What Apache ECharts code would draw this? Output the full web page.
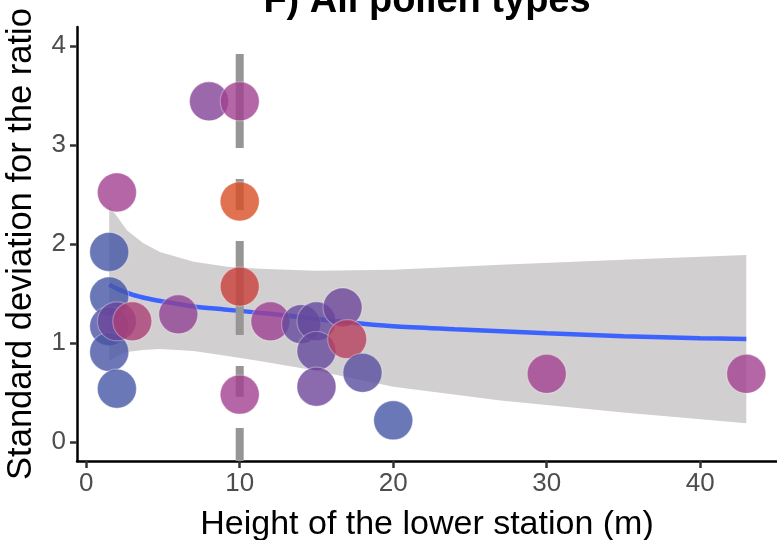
<!DOCTYPE html>
<html>
<head>
<meta charset="utf-8">
<script src="https://cdn.jsdelivr.net/npm/echarts@6/dist/echarts.min.js"></script>
<style>
html,body{margin:0;padding:0;background:#fff;}
#c{width:777px;height:540px;}
</style>
</head>
<body>
<div id="c"></div>
<script>
// ---- data ----
const titleText = "F) All pollen types";
const xTitle = "Height of the lower station (m)";
const yTitle = "Standard deviation for the ratio";
const xTicks = [0, 10, 20, 30, 40];
const yTicks = [0, 1, 2, 3, 4];

// points: height (m), SD of ratio, colour variable (0 = blue ... 1 = orange)
const ptX = [2, 1.5, 1.5, 1.5, 1.5, 2, 2, 3, 6, 8, 10, 10, 10, 10, 12, 14, 15, 15, 15, 16.7, 17, 18, 20, 30, 43];
const ptY = [2.52, 1.92, 1.47, 1.17, 0.91, 0.54, 1.22, 1.22, 1.29, 3.44, 3.44, 2.43, 1.57, 0.48, 1.22, 1.19, 1.22, 0.92, 0.56, 1.36, 1.04, 0.70, 0.22, 0.69, 0.69];
const ptC = [0.50, 0.00, 0.00, 0.04, 0.02, 0.00, 0.24, 0.58, 0.42, 0.35, 0.50, 1.00, 0.78, 0.50, 0.48, 0.20, 0.20, 0.20, 0.26, 0.24, 0.65, 0.12, 0.00, 0.50, 0.50];

// smoother fit
const fitX = [1.5, 2, 3, 4, 5, 7, 9, 11, 13.5, 17, 20, 24, 27, 30, 35, 40, 43];
const fitY = [1.59, 1.55, 1.49, 1.45, 1.42, 1.37, 1.34, 1.31, 1.27, 1.21, 1.17, 1.14, 1.12, 1.10, 1.07, 1.05, 1.04];

// confidence band
const bandX = [1.5, 2, 2.65, 3.7, 4.8, 7, 9.2, 11.3, 15, 20, 27, 35, 43];
const bandLow = [0.82, 0.87, 0.91, 0.93, 0.94, 0.92, 0.87, 0.82, 0.72, 0.56, 0.42, 0.30, 0.19];
const bandHigh = [2.38, 2.28, 2.14, 2.01, 1.92, 1.82, 1.77, 1.75, 1.73, 1.74, 1.79, 1.84, 1.89];

// reference vertical line
const vlineX = 10;

// ---- chart ----
const X_MIN = -0.6, X_MAX = 45.0, Y_MIN = -0.19, Y_MAX = 4.19;
const FONT = "'Liberation Sans', Arial, Helvetica, sans-serif";

const chart = echarts.init(document.getElementById('c'), null, {renderer: 'canvas'});

const scatterData = ptX.map((x, i) => [x, ptY[i], ptC[i]]);
const fitData = fitX.map((x, i) => [x, fitY[i]]);

const option = {
  animation: false,
  backgroundColor: '#ffffff',
  grid: {left: 77, right: 0, top: 27, bottom: 79, containLabel: false, outerBoundsMode: 'none'},
  graphic: [{
    type: 'text',
    x: 427, y: 2,
    style: {
      text: titleText,
      textAlign: 'center', textVerticalAlign: 'middle',
      font: "bold 38px " + FONT, fill: '#000'
    },
    z: 10
  }],
  xAxis: {
    type: 'value', min: X_MIN, max: X_MAX,
    splitLine: {show: false},
    axisLine: {show: true, onZero: false, lineStyle: {color: '#000', width: 2.5}},
    axisTick: {show: true, length: 7, customValues: xTicks, lineStyle: {color: '#333', width: 2.5}},
    axisLabel: {customValues: xTicks, color: '#4d4d4d', fontSize: 26, fontFamily: FONT, margin: 10},
    name: xTitle, nameLocation: 'middle', nameGap: 47,
    nameTextStyle: {color: '#000', fontSize: 34, fontFamily: FONT}
  },
  yAxis: {
    type: 'value', min: Y_MIN, max: Y_MAX,
    splitLine: {show: false},
    axisLine: {show: true, onZero: false, lineStyle: {color: '#000', width: 2.5}},
    axisTick: {show: true, length: 7, customValues: yTicks, lineStyle: {color: '#333', width: 2.5}},
    axisLabel: {customValues: yTicks, color: '#4d4d4d', fontSize: 26, fontFamily: FONT, margin: 11},
    name: yTitle, nameLocation: 'middle', nameGap: 38, nameRotate: 90,
    nameTextStyle: {color: '#000', fontSize: 34.5, fontFamily: FONT}
  },
  visualMap: {
    show: false, type: 'continuous', dimension: 2, seriesIndex: 3,
    min: 0, max: 1,
    inRange: {color: ['#4656a6', '#6d459a', '#a14090', '#c83c3c', '#d84f26']}
  },
  series: [
    {
      type: 'custom', z: 1, silent: true,
      data: [[bandX[0], bandLow[0]]],
      renderItem: function (params, api) {
        const pts = [];
        for (let i = 0; i < bandX.length; i++) pts.push(api.coord([bandX[i], bandHigh[i]]));
        for (let i = bandX.length - 1; i >= 0; i--) pts.push(api.coord([bandX[i], bandLow[i]]));
        return {type: 'polygon', shape: {points: pts}, style: {fill: '#d1cfd0'}};
      }
    },
    {
      type: 'line', z: 2, data: fitData, showSymbol: false, symbol: 'none', smooth: 0.3,
      lineStyle: {color: '#3d63ff', width: 4.5}, silent: true
    },
    {
      type: 'line', z: 3, data: [[vlineX, Y_MAX], [vlineX, Y_MIN]], showSymbol: false, symbol: 'none',
      lineStyle: {color: '#989595', width: 8, type: [94, 31, 31, 31], dashOffset: 160, cap: 'butt'}, silent: true
    },
    {
      type: 'scatter', z: 4, data: scatterData, symbolSize: 39,
      itemStyle: {opacity: 0.8, borderColor: 'rgba(255,255,255,0.4)', borderWidth: 1.2}
    }
  ]
};
chart.setOption(option);
</script>
</body>
</html>
